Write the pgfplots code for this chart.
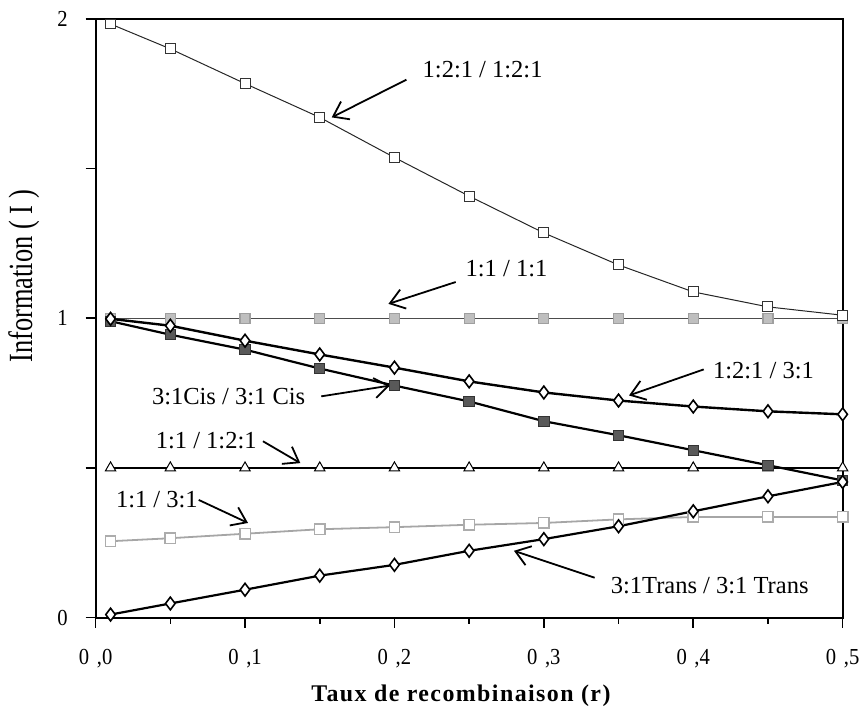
\documentclass[border=0pt]{standalone}
\usepackage{pgfplots}
\pgfplotsset{compat=1.18}
\usepackage{fontspec}
\setmainfont{Liberation Serif}
\newfontfamily\lsbf[LetterSpace=6]{Liberation Serif}
\newfontfamily\condensed[FakeStretch=0.78]{Liberation Serif}
\newfontfamily\tickfont[FakeStretch=0.9]{Liberation Serif}
\usetikzlibrary{arrows.meta}

\begin{document}
\begin{tikzpicture}
\begin{axis}[
  name=main,
  scale only axis, width=375pt, height=300.5pt,
  xmin=0, xmax=0.5, ymin=0, ymax=2,
  axis line style={line width=1pt, black},
  xtick={0,0.1,0.2,0.3,0.4,0.5},
  xticklabels={{0\,\,,0},{0\,\,,1},{0\,\,,2},{0\,\,,3},{0\,\,,4},{0\,\,,5}},
  minor xtick={0.05,0.15,0.25,0.35,0.45},
  ytick={0,0.5,1,1.5,2}, yticklabels={0,{},1,{},2},
  xtick pos=bottom, ytick pos=left,
  tick align=outside, major tick length=5pt, minor tick length=3pt,
  tick style={line width=0.8pt, black},
  ticklabel style={font=\tickfont\fontsize{11.5}{13}\selectfont},
  xticklabel style={yshift=-7.5pt},
  yticklabel style={xshift=-5.5pt},
  clip=false,
]
\draw[line width=1pt, black] (rel axis cs:0,0) rectangle (rel axis cs:1,1);
\path (rel axis cs:0,0) ++(-48pt,-46.5pt) coordinate (bbA);
\path (rel axis cs:1,1) ++(10pt,9.5pt) coordinate (bbB);
\path (bbA) rectangle (bbB);

% 1:1 / 1:1
\addplot[gray!60!black, line width=0.6pt, mark=square*, mark size=2.5pt,
  mark options={fill=gray!50, draw=gray!75}] coordinates {
(0.01,1.0) (0.05,1.0) (0.1,1.0) (0.15,1.0) (0.2,1.0) (0.25,1.0) (0.3,1.0) (0.35,1.0) (0.4,1.0) (0.45,1.0) (0.5,1.0)};

% 1:1 / 1:2:1
\addplot[black, line width=0.7pt, mark=triangle*, mark size=3pt,
  mark options={fill=white, line width=0.5pt}] coordinates {
(0.01,0.5) (0.05,0.5) (0.1,0.5) (0.15,0.5) (0.2,0.5) (0.25,0.5) (0.3,0.5) (0.35,0.5) (0.4,0.5) (0.45,0.5) (0.5,0.5)};

% 1:1 / 3:1
\addplot[gray!70, line width=0.9pt, mark=square*, mark size=2.6pt,
  mark options={fill=white, draw=gray!65, line width=0.7pt}] coordinates {
(0.01,0.255) (0.05,0.265) (0.1,0.28) (0.15,0.295) (0.2,0.302) (0.25,0.31) (0.3,0.316) (0.35,0.328) (0.4,0.336) (0.45,0.336) (0.5,0.336)};

% 1:2:1 / 1:2:1
\addplot[black!85, line width=0.5pt, mark=square*, mark size=2.5pt,
  mark options={fill=white, draw=black!80, line width=0.5pt}] coordinates {
(0.01,1.983) (0.05,1.90) (0.1,1.784) (0.15,1.671) (0.2,1.537) (0.25,1.408) (0.3,1.285) (0.35,1.178) (0.4,1.088) (0.45,1.038) (0.5,1.01)};

% 3:1 Cis / 3:1 Cis
\addplot[black, line width=1.1pt, mark=square*, mark size=2.6pt,
  mark options={fill=black!65, draw=black!80, line width=0.5pt}] coordinates {
(0.01,0.99) (0.05,0.945) (0.1,0.895) (0.15,0.832) (0.2,0.775) (0.25,0.722) (0.3,0.656) (0.35,0.609) (0.4,0.559) (0.45,0.509) (0.5,0.458)};

% 1:2:1 / 3:1
\addplot[black, line width=1.2pt, mark=diamond*, mark size=3.2pt,
  mark options={fill=white, line width=0.8pt}] coordinates {
(0.01,0.998) (0.05,0.975) (0.1,0.925) (0.15,0.879) (0.2,0.835) (0.25,0.789) (0.3,0.752) (0.35,0.725) (0.4,0.705) (0.45,0.689) (0.5,0.679)};

% 3:1 Trans / 3:1 Trans
\addplot[black, line width=1.1pt, mark=diamond*, mark size=3.2pt,
  mark options={fill=white, line width=0.8pt}] coordinates {
(0.01,0.01) (0.05,0.047) (0.1,0.093) (0.15,0.14) (0.2,0.176) (0.25,0.223) (0.3,0.262) (0.35,0.305) (0.4,0.355) (0.45,0.405) (0.5,0.453)};

% annotations
\begin{scope}[every node/.style={font=\fontsize{12.3}{14}\selectfont, inner sep=0pt},
  arr/.style={line width=0.9pt, -{Straight Barb[length=7pt,width=10pt]}}]
\node at (axis cs:0.259,1.83) {1:2:1 / 1:2:1};
\draw[arr] (axis cs:0.208,1.797) -- (axis cs:0.158,1.671);
\node at (axis cs:0.275,1.165) {1:1 / 1:1};
\draw[arr] (axis cs:0.241,1.121) -- (axis cs:0.196,1.048);
\node at (axis cs:0.447,0.825) {1:2:1 / 3:1};
\draw[arr] (axis cs:0.407,0.829) -- (axis cs:0.357,0.742);
\node at (axis cs:0.089,0.739) {3:1Cis / 3:1 Cis};
\draw[arr] (axis cs:0.151,0.739) -- (axis cs:0.197,0.775);
\node at (axis cs:0.074,0.592) {1:1 / 1:2:1};
\draw[arr] (axis cs:0.112,0.589) -- (axis cs:0.137,0.516);
\node at (axis cs:0.041,0.393) {1:1 / 3:1};
\draw[arr] (axis cs:0.069,0.393) -- (axis cs:0.102,0.316);
\node at (axis cs:0.411,0.106) {3:1Trans / 3:1 Trans};
\draw[arr] (axis cs:0.334,0.133) -- (axis cs:0.28,0.223);
\end{scope}

\node[rotate=90, font=\condensed\fontsize{17}{19}\selectfont] at ([xshift=-36pt]rel axis cs:0,0.57) {Information ( I )};
\node[font=\lsbf\bfseries\fontsize{12}{14}\selectfont] at ([yshift=-39.5pt]rel axis cs:0.489,0) {Taux de recombinaison (r)};
\end{axis}
\end{tikzpicture}
\end{document}
